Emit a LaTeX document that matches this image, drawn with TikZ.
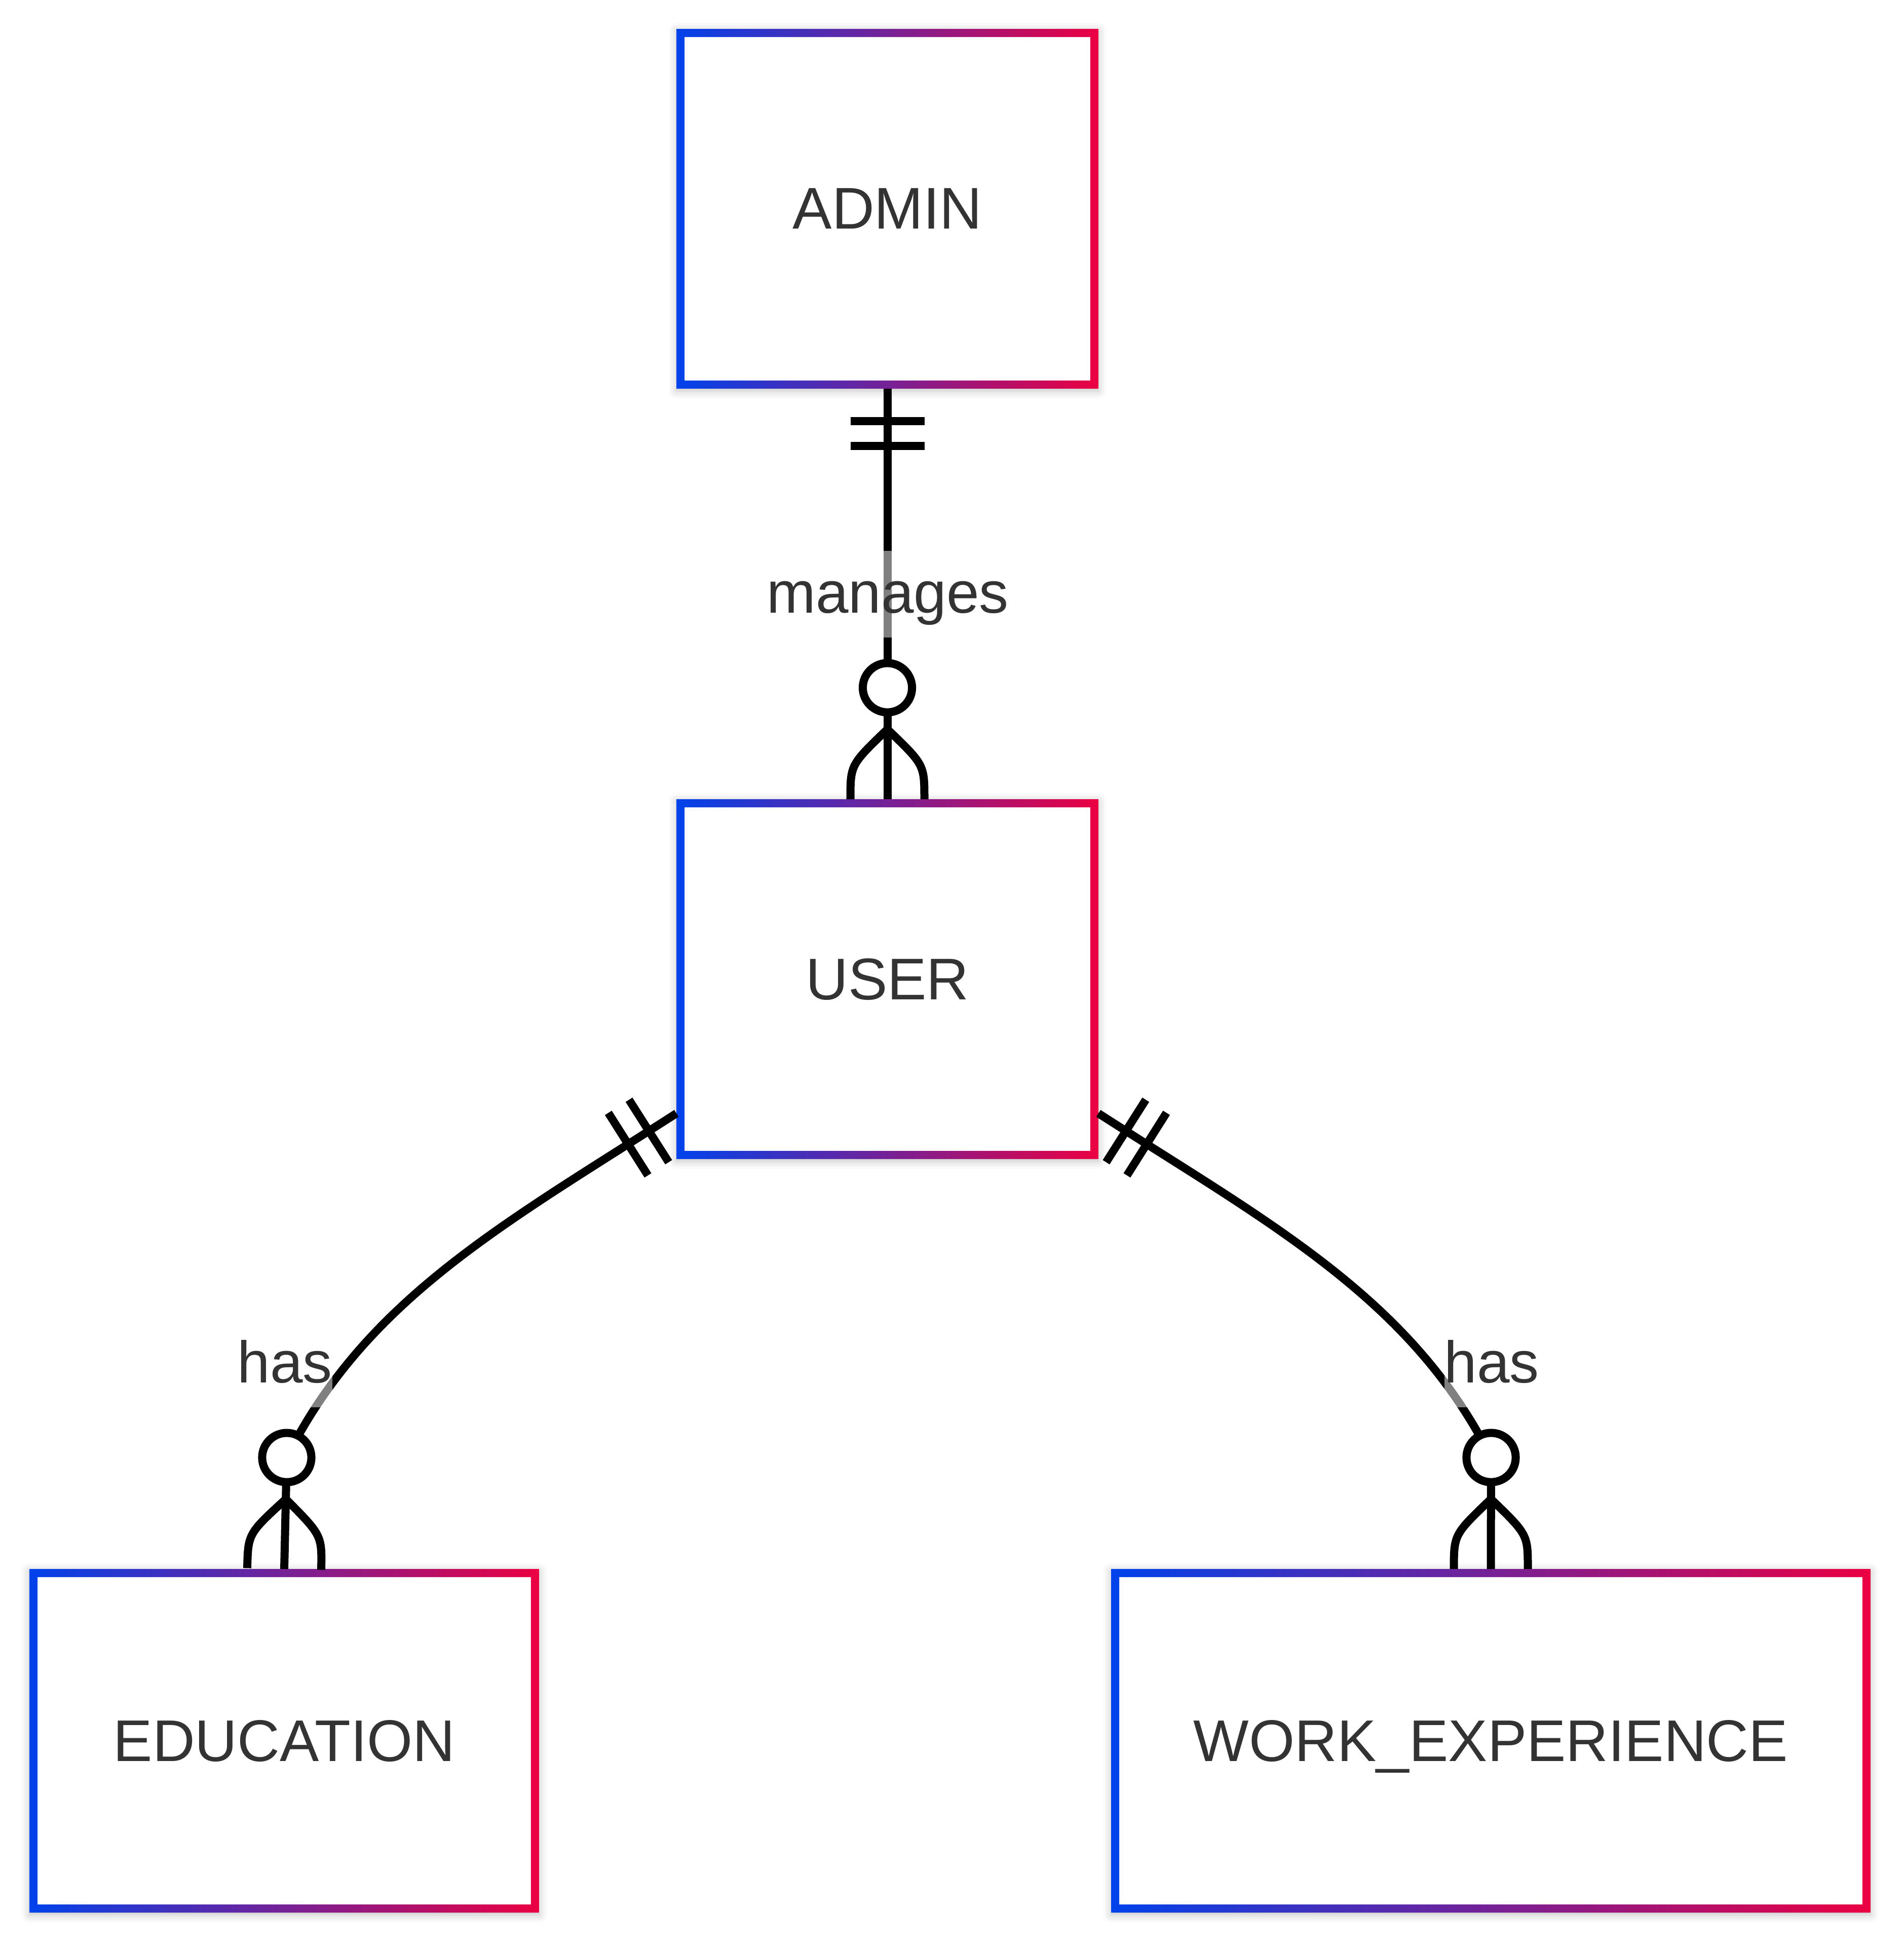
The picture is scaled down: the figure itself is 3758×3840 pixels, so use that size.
\documentclass[tikz,border=0pt]{standalone}
\usepackage{fontspec}
\setmainfont{Liberation Sans}
\usetikzlibrary{decorations.markings,shadows.blur}

\definecolor{erblue}{HTML}{0042EB}
\definecolor{erred}{HTML}{EB0042}
\definecolor{ertext}{HTML}{333333}

\tikzset{
  entity/.style={rectangle, fill=white, inner sep=0pt, outer sep=0pt, text=ertext, text depth=0pt,
    font=\fontsize{11.6}{14}\selectfont,
    blur shadow={shadow xshift=0pt, shadow yshift=-0.4pt, shadow blur radius=1.6pt, shadow opacity=25},
    path picture={\shade[left color=erblue, right color=erred, even odd rule]
      (path picture bounding box.south west) rectangle (path picture bounding box.north east)
      ([xshift=1.6pt,yshift=1.6pt]path picture bounding box.south west) rectangle
      ([xshift=-1.6pt,yshift=-1.6pt]path picture bounding box.north east);}},
  erlabel/.style={fill=white, fill opacity=0.5, text opacity=1, text=ertext,
    font=\fontsize{11.6}{14}\selectfont, text height=7.3pt, text depth=0pt,
    inner xsep=0pt, inner ysep=4.9pt},
  % exactly one: two bars near the start
  onlyone/.style={postaction={decorate, decoration={markings,
    mark=at position 6.45pt with {\draw (0pt,-7.3pt) -- (0pt,7.3pt);},
    mark=at position 11.3pt with {\draw (0pt,-7.3pt) -- (0pt,7.3pt);}}}},
  % zero or more: ring and crow's foot at the end
  zeromany/.style={postaction={decorate, decoration={markings,
    mark=at position -22pt with {
      \draw (8.2pt,0pt) .. controls (15.2pt,7.3pt) .. (22pt,7.3pt);
      \draw (8.2pt,0pt) .. controls (15.2pt,-7.3pt) .. (22pt,-7.3pt);
      \draw[fill=white] (0pt,0pt) circle (4.86pt);}}}}
}

\begin{document}
\begin{tikzpicture}[x=0.1pt, y=-0.1pt, line width=1.6pt]
\useasboundingbox (0,0) rectangle (3758,3840);

\node[entity, minimum width=83.3pt, minimum height=71pt] (admin) at (1751.5,412) {ADMIN};
\node[entity, minimum width=83.3pt, minimum height=71pt] (user) at (1751.5,1932) {USER};
\node[entity, minimum width=100.6pt, minimum height=67.8pt] (education) at (561,3435) {EDUCATION};
\node[entity, minimum width=149.9pt, minimum height=67.8pt] (work) at (2942.5,3435) {WORK\_EXPERIENCE};

\coordinate (educirc) at (566,2876);
\coordinate (workcirc) at (2943,2876);

\draw[onlyone, zeromany] (admin.south) -- (user.north);
\draw[onlyone, zeromany] ([yshift=9pt]user.south west) .. controls (999,2413) and (723,2562) .. (educirc) -- (education.north);
\draw[onlyone, zeromany] ([yshift=9pt]user.south east) .. controls (2504,2413) and (2786,2562) .. (workcirc) -- (work.north);

\node[erlabel] (manages) at (1752,1172.5) {manages};
\node[erlabel] (hasedu) at (562.5,2691.5) {has};
\node[erlabel] (haswork) at (2944,2691.5) {has};

\end{tikzpicture}
\end{document}
